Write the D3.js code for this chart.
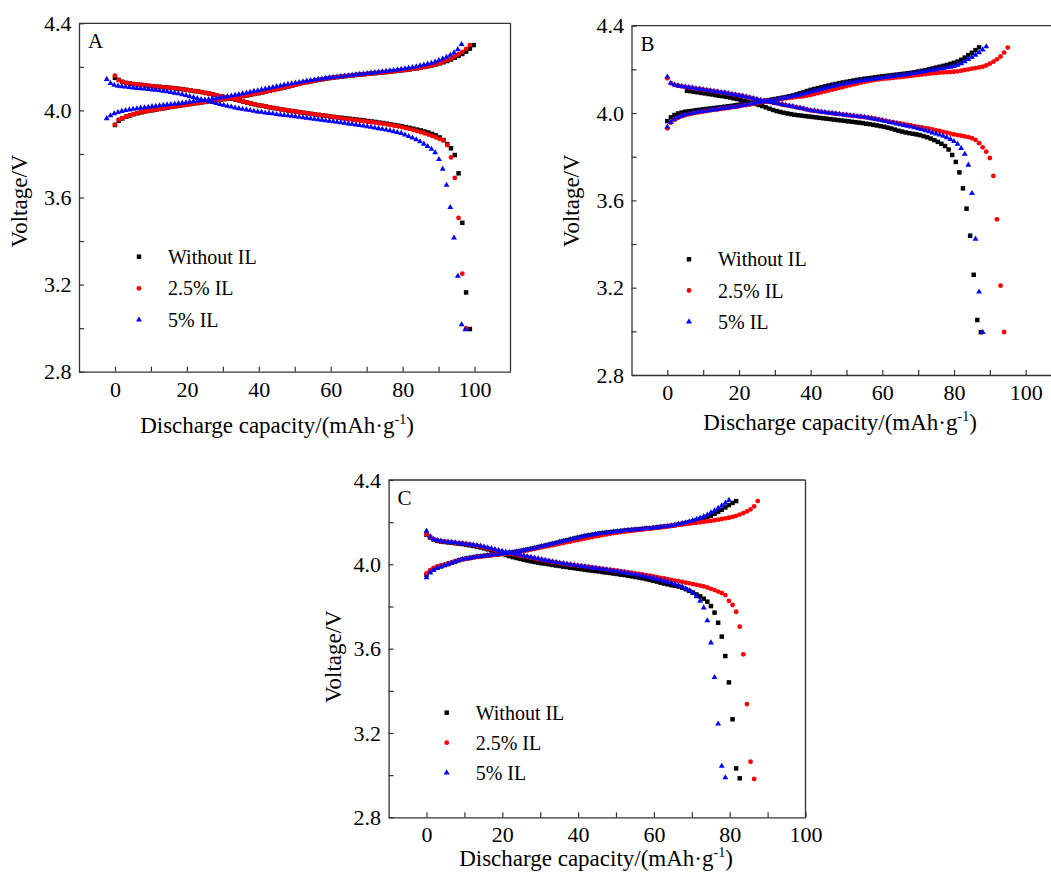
<!DOCTYPE html>
<html>
<head>
<meta charset="utf-8">
<script src="https://cdn.jsdelivr.net/npm/d3@7"></script>
<style>
  body { margin: 0; background: #fff; }
  svg { display: block; }
</style>
</head>
<body>
<svg id="chart" width="1051" height="874"></svg>
<script>
// Series
const seriesNames = ["Without IL", "2.5% IL", "5% IL"];
const seriesColors = ["#000000", "#ff0000", "#0000ff"];

// Ticks
const xTicks = [0, 10, 20, 30, 40, 50, 60, 70, 80, 90, 100];
const xLabels = [0, 20, 40, 60, 80, 100];
const yTicks = [2.8, 3.0, 3.2, 3.4, 3.6, 3.8, 4.0, 4.2, 4.4];
const yLabels = [2.8, 3.2, 3.6, 4.0, 4.4];

// ---- Panel A: voltages sampled every aStep mAh/g from each start capacity
const aStep = 1.05;
const aChargeStart = [0, 0, -2.3];
const aDischargeStart = [0, 0, -2.3];
const aChargeWithout = [3.933,3.953,3.963,3.971,3.977,3.983,3.987,3.991,3.995,3.998,
  4.001,4.004,4.007,4.010,4.013,4.016,4.019,4.021,4.024,4.027,4.029,4.032,4.034,4.037,4.039,4.042,4.044,4.047,4.050,4.052,
  4.055,4.058,4.061,4.063,4.066,4.069,4.072,4.076,4.079,4.082,4.086,4.090,4.094,4.098,4.102,4.106,4.110,4.114,4.119,4.123,
  4.127,4.130,4.134,4.137,4.140,4.143,4.146,4.149,4.151,4.153,4.155,4.157,4.159,4.161,4.163,4.165,4.166,4.168,4.170,4.171,
  4.173,4.174,4.176,4.178,4.180,4.182,4.184,4.186,4.188,4.191,4.193,4.196,4.200,4.203,4.207,4.211,4.216,4.221,4.227,4.234,
  4.242,4.250,4.259,4.270,4.284,4.300];
const aCharge25 = [3.935,3.958,3.964,3.972,3.978,3.983,3.988,3.992,3.995,3.998,
  4.001,4.004,4.007,4.010,4.013,4.016,4.018,4.021,4.024,4.026,4.029,4.031,4.034,4.036,4.039,4.041,4.044,4.047,4.049,4.052,
  4.055,4.058,4.060,4.063,4.066,4.069,4.072,4.075,4.079,4.082,4.086,4.090,4.094,4.098,4.102,4.106,4.110,4.114,4.118,4.122,
  4.126,4.130,4.133,4.137,4.140,4.143,4.146,4.148,4.151,4.153,4.155,4.157,4.159,4.161,4.163,4.164,4.166,4.168,4.169,4.171,
  4.173,4.174,4.176,4.178,4.180,4.182,4.184,4.186,4.188,4.191,4.193,4.196,4.199,4.203,4.207,4.212,4.218,4.224,4.231,4.239,
  4.248,4.258,4.269,4.283,4.300];
const aCharge5 = [3.963,3.976,3.985,3.991,3.996,4.000,4.003,4.006,4.008,4.011,
  4.013,4.015,4.018,4.020,4.022,4.024,4.026,4.028,4.030,4.032,4.034,4.036,4.039,4.041,4.043,4.045,4.048,4.050,4.053,4.055,
  4.058,4.061,4.064,4.067,4.070,4.073,4.077,4.080,4.084,4.088,4.091,4.095,4.099,4.102,4.106,4.110,4.113,4.117,4.120,4.123,
  4.126,4.129,4.132,4.135,4.138,4.140,4.143,4.145,4.148,4.150,4.152,4.154,4.156,4.158,4.160,4.162,4.164,4.166,4.168,4.170,
  4.172,4.174,4.176,4.178,4.180,4.182,4.184,4.187,4.189,4.192,4.195,4.198,4.201,4.205,4.209,4.213,4.217,4.223,4.230,4.237,
  4.245,4.254,4.265,4.280,4.303];
const aDischargeWithout = [4.150,4.140,4.131,4.126,4.123,4.121,4.119,4.117,4.115,4.113,
  4.111,4.109,4.108,4.106,4.105,4.103,4.101,4.099,4.097,4.094,4.092,4.089,4.087,4.084,4.080,4.077,4.073,4.069,4.065,4.061,
  4.057,4.053,4.049,4.045,4.040,4.036,4.032,4.028,4.024,4.021,4.018,4.014,4.011,4.008,4.005,4.002,3.999,3.997,3.994,3.992,
  3.989,3.987,3.984,3.982,3.979,3.977,3.975,3.972,3.970,3.968,3.966,3.964,3.962,3.960,3.958,3.956,3.954,3.951,3.949,3.947,
  3.944,3.942,3.939,3.936,3.933,3.930,3.927,3.923,3.920,3.916,3.912,3.908,3.903,3.898,3.892,3.885,3.876,3.864,3.845,3.826,
  3.795,3.711,3.484,3.164,2.996];
const aDischarge25 = [4.160,4.140,4.131,4.126,4.123,4.121,4.119,4.117,4.115,4.113,
  4.111,4.109,4.108,4.106,4.105,4.103,4.101,4.099,4.097,4.094,4.092,4.089,4.087,4.084,4.080,4.077,4.073,4.069,4.065,4.061,
  4.057,4.053,4.049,4.045,4.040,4.036,4.032,4.028,4.024,4.021,4.018,4.014,4.011,4.008,4.005,4.002,3.999,3.997,3.994,3.992,
  3.989,3.987,3.984,3.982,3.979,3.977,3.975,3.972,3.970,3.968,3.963,3.961,3.959,3.957,3.955,3.953,3.951,3.948,3.946,3.944,
  3.941,3.939,3.936,3.933,3.930,3.927,3.923,3.919,3.915,3.910,3.905,3.900,3.895,3.889,3.883,3.876,3.869,3.862,3.841,3.784,
  3.690,3.506,3.250,2.999];
const aDischarge5 = [4.143,4.124,4.116,4.112,4.110,4.108,4.106,4.104,4.102,4.100,
  4.099,4.097,4.095,4.093,4.091,4.089,4.086,4.083,4.080,4.077,4.073,4.069,4.064,4.060,4.055,4.051,4.046,4.042,4.037,4.033,
  4.028,4.024,4.020,4.016,4.012,4.009,4.006,4.003,4.000,3.997,3.994,3.992,3.989,3.987,3.985,3.982,3.980,3.978,3.976,3.974,
  3.972,3.969,3.967,3.965,3.962,3.960,3.958,3.956,3.953,3.951,3.949,3.946,3.944,3.942,3.939,3.937,3.934,3.931,3.929,3.926,
  3.923,3.920,3.917,3.914,3.911,3.907,3.903,3.899,3.895,3.888,3.881,3.874,3.866,3.857,3.846,3.835,3.822,3.806,3.775,3.731,
  3.657,3.555,3.415,3.239,3.016,2.994];

// ---- Panel B
const bStep = 1.0;
const bChargeStart = [0, 0, 0];
const bDischargeStart = [5.5, 0, 0];
const bChargeWithout = [3.963,3.980,3.991,3.998,4.002,4.006,4.008,4.010,4.013,4.015,
  4.017,4.019,4.021,4.023,4.025,4.027,4.029,4.031,4.033,4.036,4.038,4.040,4.043,4.045,4.048,4.050,4.053,4.055,4.058,4.061,
  4.064,4.067,4.070,4.073,4.077,4.080,4.085,4.090,4.096,4.101,4.106,4.110,4.114,4.118,4.122,4.126,4.130,4.133,4.137,4.140,
  4.143,4.146,4.149,4.152,4.154,4.157,4.159,4.161,4.164,4.166,4.168,4.170,4.172,4.174,4.176,4.178,4.180,4.182,4.184,4.187,
  4.190,4.193,4.196,4.200,4.204,4.208,4.212,4.216,4.220,4.225,4.230,4.236,4.244,4.254,4.265,4.276,4.288,4.301];
const bCharge25 = [3.930,3.956,3.969,3.978,3.985,3.990,3.994,3.998,4.001,4.004,
  4.007,4.009,4.012,4.014,4.016,4.019,4.021,4.023,4.026,4.028,4.031,4.034,4.036,4.039,4.042,4.045,4.048,4.051,4.054,4.056,
  4.059,4.062,4.064,4.067,4.069,4.071,4.073,4.075,4.077,4.080,4.083,4.087,4.091,4.095,4.099,4.103,4.107,4.111,4.115,4.119,
  4.123,4.127,4.131,4.135,4.139,4.143,4.146,4.149,4.152,4.154,4.156,4.158,4.159,4.161,4.163,4.164,4.166,4.168,4.170,4.172,
  4.174,4.176,4.178,4.180,4.182,4.183,4.185,4.186,4.187,4.188,4.189,4.191,4.194,4.197,4.200,4.203,4.206,4.209,4.212,4.218,
  4.226,4.235,4.246,4.259,4.277,4.300];
const bCharge5 = [3.937,3.958,3.971,3.980,3.987,3.992,3.996,3.999,4.003,4.006,
  4.008,4.010,4.013,4.015,4.017,4.020,4.022,4.024,4.027,4.029,4.032,4.035,4.038,4.041,4.044,4.047,4.050,4.053,4.056,4.058,
  4.061,4.064,4.067,4.070,4.073,4.077,4.080,4.084,4.088,4.092,4.097,4.101,4.105,4.109,4.114,4.118,4.122,4.125,4.129,4.132,
  4.136,4.139,4.142,4.145,4.148,4.150,4.153,4.155,4.157,4.159,4.162,4.164,4.166,4.168,4.171,4.173,4.175,4.177,4.180,4.182,
  4.185,4.188,4.191,4.194,4.197,4.199,4.202,4.205,4.208,4.211,4.214,4.220,4.227,4.236,4.246,4.255,4.266,4.277,4.290,4.304];
const bDischargeWithout = [4.102,4.100,4.097,4.095,4.092,4.090,4.087,4.085,4.082,4.079,
  4.077,4.074,4.071,4.067,4.064,4.060,4.056,4.052,4.047,4.042,4.037,4.032,4.026,4.020,4.014,4.009,4.005,4.001,3.998,3.995,
  3.992,3.990,3.988,3.986,3.984,3.982,3.980,3.978,3.976,3.974,3.972,3.970,3.968,3.966,3.964,3.962,3.960,3.958,3.956,3.954,
  3.951,3.949,3.946,3.943,3.940,3.937,3.933,3.929,3.924,3.919,3.915,3.911,3.908,3.905,3.902,3.899,3.894,3.889,3.883,3.876,
  3.868,3.859,3.849,3.833,3.808,3.776,3.728,3.655,3.562,3.438,3.259,3.052,2.996];
const bDischarge25 = [4.159,4.136,4.129,4.125,4.122,4.120,4.117,4.115,4.112,4.110,
  4.107,4.105,4.103,4.100,4.098,4.095,4.093,4.090,4.087,4.084,4.081,4.078,4.074,4.071,4.067,4.063,4.059,4.056,4.052,4.049,
  4.046,4.043,4.039,4.036,4.033,4.030,4.026,4.023,4.020,4.016,4.012,4.010,4.008,4.005,4.003,4.001,3.999,3.997,3.995,3.993,
  3.991,3.989,3.987,3.985,3.983,3.981,3.979,3.977,3.974,3.971,3.967,3.964,3.961,3.958,3.955,3.952,3.949,3.946,3.943,3.940,
  3.937,3.934,3.931,3.928,3.925,3.921,3.918,3.914,3.910,3.906,3.902,3.899,3.896,3.893,3.890,3.885,3.877,3.862,3.843,3.823,
  3.794,3.712,3.513,3.209,2.997];
const bDischarge5 = [4.166,4.137,4.129,4.125,4.122,4.120,4.117,4.115,4.112,4.110,
  4.107,4.105,4.103,4.100,4.098,4.095,4.093,4.090,4.087,4.084,4.081,4.078,4.074,4.071,4.067,4.063,4.059,4.056,4.052,4.049,
  4.046,4.043,4.039,4.036,4.033,4.030,4.026,4.023,4.020,4.016,4.012,4.010,4.008,4.005,4.003,4.001,3.999,3.997,3.995,3.993,
  3.991,3.989,3.987,3.985,3.983,3.981,3.978,3.975,3.972,3.969,3.966,3.962,3.958,3.955,3.951,3.947,3.944,3.940,3.937,3.933,
  3.929,3.925,3.920,3.915,3.909,3.905,3.900,3.895,3.888,3.880,3.870,3.858,3.838,3.812,3.762,3.632,3.423,3.181,2.996];

// ---- Panel C
const cStep = 0.95;
const cChargeStart = [0, 0, 0];
const cDischargeStart = [0, 0, 0];
const cChargeWithout = [3.950,3.965,3.976,3.984,3.990,3.996,4.001,4.007,4.013,4.019,
  4.024,4.027,4.030,4.033,4.036,4.038,4.040,4.042,4.044,4.046,4.048,4.050,4.052,4.055,4.057,4.060,4.063,4.066,4.070,4.073,
  4.077,4.081,4.085,4.089,4.093,4.097,4.101,4.106,4.110,4.114,4.118,4.122,4.126,4.130,4.134,4.137,4.140,4.143,4.146,4.148,
  4.150,4.152,4.154,4.156,4.158,4.160,4.162,4.163,4.165,4.166,4.168,4.170,4.171,4.173,4.175,4.177,4.179,4.181,4.183,4.186,
  4.189,4.192,4.196,4.200,4.204,4.209,4.214,4.219,4.225,4.231,4.240,4.249,4.259,4.270,4.281,4.291,4.300];
const cCharge25 = [3.957,3.972,3.983,3.990,3.995,3.999,4.004,4.009,4.014,4.019,
  4.023,4.026,4.029,4.032,4.035,4.037,4.039,4.041,4.043,4.045,4.046,4.048,4.050,4.052,4.055,4.057,4.060,4.063,4.066,4.070,
  4.073,4.077,4.080,4.084,4.087,4.091,4.094,4.098,4.101,4.105,4.108,4.112,4.115,4.119,4.122,4.126,4.129,4.133,4.136,4.139,
  4.142,4.145,4.148,4.150,4.153,4.155,4.157,4.159,4.161,4.163,4.165,4.167,4.169,4.171,4.173,4.175,4.177,4.180,4.182,4.184,
  4.187,4.189,4.191,4.193,4.195,4.197,4.199,4.202,4.204,4.206,4.209,4.212,4.215,4.218,4.221,4.225,4.230,4.236,4.243,4.251,
  4.261,4.275,4.300];
const cCharge5 = [3.937,3.960,3.973,3.982,3.989,3.995,4.001,4.007,4.013,4.019,
  4.024,4.027,4.030,4.033,4.036,4.038,4.040,4.042,4.044,4.046,4.048,4.050,4.052,4.055,4.057,4.060,4.063,4.066,4.070,4.073,
  4.077,4.081,4.085,4.089,4.093,4.097,4.101,4.106,4.110,4.114,4.118,4.122,4.126,4.130,4.134,4.137,4.140,4.143,4.146,4.148,
  4.150,4.152,4.154,4.156,4.158,4.160,4.162,4.163,4.165,4.166,4.168,4.170,4.171,4.173,4.175,4.177,4.179,4.181,4.184,4.187,
  4.190,4.194,4.198,4.203,4.208,4.214,4.220,4.227,4.235,4.245,4.255,4.266,4.278,4.291,4.304];
const cDischargeWithout = [4.140,4.127,4.116,4.111,4.108,4.106,4.104,4.102,4.100,4.098,
  4.096,4.093,4.090,4.087,4.084,4.080,4.076,4.071,4.066,4.061,4.056,4.050,4.044,4.039,4.034,4.030,4.026,4.022,4.018,4.014,
  4.011,4.008,4.005,4.003,4.000,3.997,3.994,3.992,3.989,3.987,3.984,3.982,3.979,3.977,3.974,3.972,3.970,3.968,3.966,3.963,
  3.961,3.959,3.956,3.954,3.951,3.949,3.946,3.943,3.940,3.937,3.934,3.930,3.926,3.922,3.918,3.913,3.909,3.905,3.901,3.898,
  3.895,3.889,3.882,3.874,3.866,3.857,3.848,3.837,3.823,3.802,3.771,3.723,3.657,3.565,3.440,3.265,3.032,2.985];
const cDischarge25 = [4.142,4.131,4.118,4.113,4.110,4.108,4.106,4.104,4.102,4.101,
  4.099,4.097,4.094,4.091,4.088,4.085,4.081,4.076,4.072,4.067,4.063,4.059,4.056,4.052,4.049,4.046,4.042,4.039,4.035,4.032,
  4.028,4.025,4.021,4.018,4.015,4.012,4.009,4.006,4.003,4.001,3.998,3.996,3.994,3.992,3.990,3.988,3.985,3.983,3.981,3.978,
  3.976,3.974,3.972,3.970,3.967,3.965,3.962,3.960,3.957,3.955,3.952,3.949,3.946,3.943,3.939,3.936,3.933,3.930,3.926,3.923,
  3.920,3.917,3.913,3.910,3.906,3.903,3.899,3.895,3.890,3.884,3.878,3.871,3.864,3.854,3.827,3.807,3.775,3.704,3.573,3.337,
  3.064,2.982];
const cDischarge5 = [4.158,4.132,4.119,4.114,4.111,4.108,4.106,4.105,4.103,4.101,
  4.099,4.097,4.095,4.092,4.090,4.087,4.083,4.079,4.075,4.071,4.067,4.063,4.059,4.055,4.052,4.049,4.045,4.041,4.037,4.034,
  4.030,4.027,4.023,4.020,4.016,4.013,4.010,4.007,4.004,4.002,3.999,3.996,3.994,3.991,3.989,3.987,3.984,3.982,3.980,3.977,
  3.975,3.972,3.969,3.967,3.964,3.961,3.958,3.955,3.952,3.949,3.946,3.942,3.938,3.934,3.930,3.925,3.921,3.917,3.912,3.906,
  3.900,3.893,3.885,3.876,3.863,3.847,3.826,3.794,3.733,3.628,3.464,3.243,3.043,2.988];

const fontFamily = "'Liberation Serif', 'Times New Roman', serif";
const svg = d3.select("#chart");
const symbols = [d3.symbolSquare, d3.symbolCircle, d3.symbolTriangle];
const symbolSizes = [20, 18, 15];

function drawPanel(p) {
  const x = d3.scaleLinear().domain([-10, p.xMax]).range([p.left, p.right]);
  const y = d3.scaleLinear().domain([2.8, 4.4]).range([p.bottom, p.top]);
  const g = svg.append("g");

  // Frame (top and right)
  g.append("line")
    .attr("x1", p.left).attr("y1", p.top).attr("x2", p.right).attr("y2", p.top)
    .attr("stroke", "#333").attr("stroke-width", 1.3);
  g.append("line")
    .attr("x1", p.right).attr("y1", p.top).attr("x2", p.right).attr("y2", p.bottom)
    .attr("stroke", "#333").attr("stroke-width", 1.3);

  // Bottom axis
  const xAxis = g.append("g")
    .attr("transform", `translate(0,${p.bottom})`)
    .call(d3.axisBottom(x)
      .tickValues(xTicks)
      .tickFormat(d => xLabels.includes(d) ? d : "")
      .tickSizeInner(-5).tickSizeOuter(0).tickPadding(9.5));
  // Left axis
  const yAxis = g.append("g")
    .attr("transform", `translate(${p.left},0)`)
    .call(d3.axisLeft(y)
      .tickValues(yTicks)
      .tickFormat(d => yLabels.some(v => Math.abs(v - d) < 1e-6) ? d3.format(".1f")(d) : "")
      .tickSizeInner(-5).tickSizeOuter(0).tickPadding(7.5));
  [xAxis, yAxis].forEach(a => {
    a.attr("font-size", 22).attr("font-family", fontFamily);
    a.select(".domain").attr("stroke", "#333").attr("stroke-width", 1.3);
    a.selectAll(".tick line").attr("stroke", "#333").attr("stroke-width", 1.2);
    a.selectAll(".tick text").attr("fill", "#000");
  });

  // Points: Without IL first, 5% IL on top
  for (let s = 0; s < 3; s++) {
    const pts = [];
    p.charge[s].forEach((v, i) => pts.push([p.chargeStart[s] + i * p.step, v]));
    p.discharge[s].forEach((v, i) => pts.push([p.dischargeStart[s] + i * p.step, v]));
    g.append("g").selectAll("path")
      .data(pts)
      .join("path")
      .attr("transform", d => `translate(${x(d[0])},${y(d[1])})`)
      .attr("d", d3.symbol().type(symbols[s]).size(symbolSizes[s]))
      .attr("fill", seriesColors[s]);
  }

  // Legend
  seriesNames.forEach((name, s) => {
    const ly = p.legendY + s * p.legendGap;
    g.append("path")
      .attr("transform", `translate(${p.legendX},${ly})`)
      .attr("d", d3.symbol().type(symbols[s]).size(symbolSizes[s]))
      .attr("fill", seriesColors[s]);
    g.append("text")
      .attr("x", p.legendX + 29)
      .attr("y", ly + 7)
      .attr("font-size", 20)
      .attr("font-family", fontFamily)
      .attr("fill", "#000")
      .text(name);
  });

  // Panel letter
  g.append("text")
    .attr("x", p.left + 9)
    .attr("y", p.top + 25)
    .attr("font-size", 21)
    .attr("font-family", fontFamily)
    .text(p.label);

  // Y title
  g.append("text")
    .attr("transform", `translate(${p.yTitleX},${p.yTitleY}) rotate(-90)`)
    .attr("text-anchor", "middle")
    .attr("font-size", 23)
    .attr("font-family", fontFamily)
    .text("Voltage/V");

  // X title
  const xt = g.append("text")
    .attr("x", p.xTitleX)
    .attr("y", p.xTitleY)
    .attr("text-anchor", "middle")
    .attr("font-size", 23)
    .attr("font-family", fontFamily);
  xt.append("tspan").text("Discharge capacity/(mAh\u00b7g");
  xt.append("tspan").attr("dy", -9).attr("font-size", 14).text("-1");
  xt.append("tspan").attr("dy", 9).text(")");
}

drawPanel({
  label: "A", xMax: 110, left: 79, right: 510.5, top: 23.3, bottom: 371.7,
  step: aStep, chargeStart: aChargeStart, dischargeStart: aDischargeStart,
  charge: [aChargeWithout, aCharge25, aCharge5],
  discharge: [aDischargeWithout, aDischarge25, aDischarge5],
  legendX: 139, legendY: 256.7, legendGap: 31.6,
  yTitleX: 27, yTitleY: 201, xTitleX: 277, xTitleY: 433
});

drawPanel({
  label: "B", xMax: 110, left: 631.5, right: 1061.5, top: 25.7, bottom: 375,
  step: bStep, chargeStart: bChargeStart, dischargeStart: bDischargeStart,
  charge: [bChargeWithout, bCharge25, bCharge5],
  discharge: [bDischargeWithout, bDischarge25, bDischarge5],
  legendX: 689, legendY: 259.3, legendGap: 31.2,
  yTitleX: 578.6, yTitleY: 200.8, xTitleX: 840, xTitleY: 430
});

drawPanel({
  label: "C", xMax: 100, left: 388.6, right: 805.5, top: 480, bottom: 817.3,
  step: cStep, chargeStart: cChargeStart, dischargeStart: cDischargeStart,
  charge: [cChargeWithout, cCharge25, cCharge5],
  discharge: [cDischargeWithout, cDischarge25, cDischarge5],
  legendX: 446.7, legendY: 712.7, legendGap: 30,
  yTitleX: 341.2, yTitleY: 656.7, xTitleX: 596, xTitleY: 866
});
</script>
</body>
</html>
